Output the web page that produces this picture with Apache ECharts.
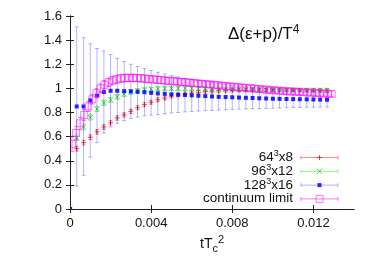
<!DOCTYPE html>
<html><head><meta charset="utf-8">
<script src="https://cdn.jsdelivr.net/npm/echarts@6/dist/echarts.min.js"></script>
<style>html,body{margin:0;padding:0;background:#fff}#c{width:382px;height:267px}</style>
</head><body><div id="c"></div>
<script>
// lattice flow-time values tT_c^2 (shared by the three lattices)
const tLat = [0, 0.00033, 0.00067, 0.00100, 0.00133, 0.00167, 0.00200, 0.00233, 0.00267, 0.00300,
  0.00333, 0.00367, 0.00400, 0.00433, 0.00467, 0.00500, 0.00533, 0.00567, 0.00600, 0.00633,
  0.00667, 0.00700, 0.00733, 0.00767, 0.00800, 0.00833, 0.00867, 0.00900, 0.00933, 0.00967,
  0.01000, 0.01033, 0.01067, 0.01100, 0.01133, 0.01167, 0.01200, 0.01233, 0.01267];
const red64 = [0, 0.50, 0.55, 0.595, 0.64, 0.68, 0.715, 0.755, 0.78, 0.81,
  0.84, 0.865, 0.885, 0.905, 0.92, 0.935, 0.945, 0.955, 0.962, 0.968,
  0.973, 0.977, 0.98, 0.982, 0.984, 0.985, 0.986, 0.986, 0.987, 0.987,
  0.987, 0.987, 0.986, 0.986, 0.986, 0.985, 0.985, 0.984, 0.984];
const red64Err = [0, 0.02, 0.02, 0.02, 0.02, 0.02, 0.018, 0.018, 0.018, 0.017,
  0.017, 0.016, 0.016, 0.016, 0.015, 0.015, 0.015, 0.015, 0.014, 0.014,
  0.014, 0.014, 0.014, 0.013, 0.013, 0.013, 0.013, 0.013, 0.013, 0.013,
  0.012, 0.012, 0.012, 0.012, 0.012, 0.012, 0.012, 0.012, 0.012];
const green96 = [0, 0.59, 0.68, 0.76, 0.83, 0.88, 0.905, 0.93, 0.953, 0.97,
  0.98, 0.988, 0.993, 0.997, 1.0, 1.0, 1.0, 1.0, 0.999, 0.998,
  0.997, 0.996, 0.995, 0.994, 0.993, 0.992, 0.991, 0.99, 0.989, 0.988,
  0.988, 0.987, 0.987, 0.986, 0.986, 0.985, 0.985, 0.985, 0.984];
const green96Err = [0, 0.025, 0.025, 0.024, 0.023, 0.022, 0.021, 0.02, 0.02, 0.019,
  0.019, 0.018, 0.018, 0.018, 0.017, 0.017, 0.017, 0.016, 0.016, 0.016,
  0.016, 0.015, 0.015, 0.015, 0.015, 0.015, 0.014, 0.014, 0.014, 0.014,
  0.014, 0.014, 0.013, 0.013, 0.013, 0.013, 0.013, 0.013, 0.013];
const blue128 = [0, 0.85, 0.85, 0.90, 0.94, 0.97, 0.98, 0.98, 0.977, 0.975,
  0.972, 0.968, 0.963, 0.958, 0.955, 0.951, 0.948, 0.945, 0.942, 0.939,
  0.936, 0.933, 0.930, 0.928, 0.926, 0.924, 0.922, 0.920, 0.918, 0.916,
  0.914, 0.913, 0.912, 0.911, 0.910, 0.909, 0.908, 0.907, 0.906];
const blue128Err = [0, 0.66, 0.57, 0.47, 0.39, 0.34, 0.30, 0.27, 0.245, 0.225,
  0.21, 0.195, 0.185, 0.175, 0.165, 0.155, 0.148, 0.14, 0.133, 0.127,
  0.12, 0.115, 0.11, 0.105, 0.10, 0.096, 0.092, 0.088, 0.085, 0.082,
  0.079, 0.076, 0.073, 0.07, 0.068, 0.066, 0.064, 0.062, 0.06];
// continuum limit
const tCont = [0.0001, 0.0003, 0.0005, 0.0007, 0.0009, 0.0011, 0.0013, 0.0015, 0.0017, 0.0019,
  0.0021, 0.0023, 0.0025, 0.0027, 0.0029, 0.0031, 0.0033, 0.0035, 0.0037, 0.0039,
  0.0041, 0.0043, 0.0045, 0.0047, 0.0049, 0.0051, 0.0053, 0.0055, 0.0057, 0.0059,
  0.0061, 0.0063, 0.0065, 0.0067, 0.0069, 0.0071, 0.0073, 0.0075, 0.0077, 0.0079,
  0.0081, 0.0083, 0.0085, 0.0087, 0.0089, 0.0091, 0.0093, 0.0095, 0.0097, 0.0099,
  0.0101, 0.0103, 0.0105, 0.0107, 0.0109, 0.0111, 0.0113, 0.0115, 0.0117, 0.0119,
  0.0121, 0.0123, 0.0125, 0.0127, 0.0129];
const cont = [0.54, 0.63, 0.71, 0.78, 0.85, 0.91, 0.96, 1.00, 1.03, 1.05,
  1.065, 1.075, 1.082, 1.086, 1.087, 1.087, 1.085, 1.083, 1.080, 1.077,
  1.074, 1.071, 1.068, 1.065, 1.062, 1.059, 1.056, 1.053, 1.050, 1.047,
  1.044, 1.041, 1.038, 1.035, 1.032, 1.029, 1.026, 1.022, 1.019, 1.016,
  1.013, 1.010, 1.007, 1.004, 1.001, 0.998, 0.995, 0.992, 0.989, 0.986,
  0.984, 0.981, 0.979, 0.976, 0.974, 0.972, 0.970, 0.968, 0.966, 0.964,
  0.962, 0.960, 0.958, 0.956, 0.954];
const contErr = [0.065, 0.055, 0.05, 0.045, 0.042, 0.04, 0.038, 0.036, 0.035, 0.034,
  0.033, 0.033, 0.032, 0.032, 0.031, 0.031, 0.03, 0.03, 0.03, 0.029,
  0.029, 0.029, 0.028, 0.028, 0.028, 0.028, 0.027, 0.027, 0.027, 0.027,
  0.026, 0.026, 0.026, 0.026, 0.026, 0.025, 0.025, 0.025, 0.025, 0.025,
  0.025, 0.024, 0.024, 0.024, 0.024, 0.024, 0.024, 0.023, 0.023, 0.023,
  0.023, 0.023, 0.023, 0.023, 0.022, 0.022, 0.022, 0.022, 0.022, 0.022,
  0.022, 0.022, 0.022, 0.022, 0.022];
const xTicks = [0, 0.004, 0.008, 0.012];
const legendNames = ['64{s|3}x8', '96{s|3}x12', '128{s|3}x16', 'continuum limit'];

const FONT = 'Liberation Sans, Arial, Helvetica, sans-serif';
const styles = [
  { bar: 'rgba(255,0,0,0.45)', mk: 'rgba(225,0,0,0.7)', shape: 'plus', size: 2.5 },
  { bar: 'rgba(0,230,0,0.45)', mk: 'rgba(0,210,0,0.75)', shape: 'cross', size: 2.5 },
  { bar: 'rgba(0,0,255,0.3)', mk: 'rgba(0,0,255,0.85)', shape: 'fsquare', size: 2 },
  { bar: 'rgba(255,0,255,0.55)', mk: 'rgba(255,0,255,0.55)', shape: 'osquare', size: 3.5 }
];

function markerShapes(st, cx, cy) {
  const s = st.size;
  if (st.shape === 'plus') return [
    { type: 'line', shape: { x1: cx - s, y1: cy, x2: cx + s, y2: cy }, style: { stroke: st.mk, lineWidth: 1 } },
    { type: 'line', shape: { x1: cx, y1: cy - s, x2: cx, y2: cy + s }, style: { stroke: st.mk, lineWidth: 1 } }];
  if (st.shape === 'cross') return [
    { type: 'line', shape: { x1: cx - s, y1: cy - s, x2: cx + s, y2: cy + s }, style: { stroke: st.mk, lineWidth: 1 } },
    { type: 'line', shape: { x1: cx - s, y1: cy + s, x2: cx + s, y2: cy - s }, style: { stroke: st.mk, lineWidth: 1 } }];
  if (st.shape === 'fsquare') return [
    { type: 'rect', shape: { x: cx - s, y: cy - s, width: 2 * s, height: 2 * s }, style: { fill: st.mk } }];
  return [{ type: 'rect', shape: { x: cx - s, y: cy - s, width: 2 * s, height: 2 * s }, style: { fill: 'none', stroke: st.mk, lineWidth: 1 } }];
}

function errSeries(idx, xs, ys, es) {
  const st = styles[idx];
  const data = xs.map((x, i) => [x, ys[i], es[i]]);
  return {
    type: 'custom', xAxisIndex: 0, yAxisIndex: 0, clip: true, silent: true,
    data: data,
    renderItem: function (params, api) {
      const x = api.value(0), y = api.value(1), e = api.value(2);
      const p = api.coord([x, y]);
      const top = api.coord([x, y + e]);
      const bot = api.coord([x, y - e]);
      const cw = 2;
      const ch = [];
      if (e > 0) {
        ch.push({ type: 'line', shape: { x1: p[0], y1: top[1], x2: p[0], y2: bot[1] }, style: { stroke: st.bar, lineWidth: 1 } });
        ch.push({ type: 'line', shape: { x1: p[0] - cw, y1: top[1], x2: p[0] + cw, y2: top[1] }, style: { stroke: st.bar, lineWidth: 1 } });
        ch.push({ type: 'line', shape: { x1: p[0] - cw, y1: bot[1], x2: p[0] + cw, y2: bot[1] }, style: { stroke: st.bar, lineWidth: 1 } });
      }
      return { type: 'group', children: ch.concat(markerShapes(st, p[0], p[1])) };
    }
  };
}

const chart = echarts.init(document.getElementById('c'), null, { renderer: 'canvas' });
const axisLineStyle = { color: '#222', width: 1 };
const lab = { fontFamily: FONT, fontSize: 13, color: '#111' };

// legend graphics
const legendTop = 157.5, legendStep = 13.8;
const legendGraphics = [];
legendNames.forEach((nm, i) => {
  const st = styles[i];
  const y = legendTop + i * legendStep;
  legendGraphics.push({ type: 'text', right: 382 - 293, top: y - 8,
    style: { text: nm, font: '13.5px ' + FONT, fill: '#111', textAlign: 'right',
      rich: { s: { fontSize: 9, verticalAlign: 'top', padding: [0, 0, 7, 0], fontFamily: FONT, fill: '#111' } } } });
  legendGraphics.push({ type: 'line', shape: { x1: 301, y1: y, x2: 338, y2: y }, style: { stroke: st.bar, lineWidth: 1 } });
  legendGraphics.push({ type: 'line', shape: { x1: 301, y1: y - 2, x2: 301, y2: y + 2 }, style: { stroke: st.bar, lineWidth: 1 } });
  legendGraphics.push({ type: 'line', shape: { x1: 338, y1: y - 2, x2: 338, y2: y + 2 }, style: { stroke: st.bar, lineWidth: 1 } });
  markerShapes(st, 319.5, y).forEach(g => legendGraphics.push(g));
});

chart.setOption({
  animation: false,
  backgroundColor: '#fff',
  grid: { left: 70, right: 28, top: 16, bottom: 58, containLabel: false },
  xAxis: [
    { type: 'value', min: 0, max: 0.014, interval: 0.004, position: 'bottom',
      axisLine: { show: true, lineStyle: axisLineStyle },
      axisTick: { inside: true, length: 4, lineStyle: axisLineStyle, customValues: xTicks },
      axisLabel: { ...lab, margin: 8, customValues: xTicks, formatter: v => String(v) },
      splitLine: { show: false } },
    { type: 'value', min: 0, max: 0.014, interval: 0.004, position: 'top',
      axisLine: { show: true, lineStyle: axisLineStyle },
      axisTick: { inside: true, length: 4, lineStyle: axisLineStyle, customValues: xTicks },
      axisLabel: { show: false }, splitLine: { show: false } }
  ],
  yAxis: [
    { type: 'value', min: 0, max: 1.6, interval: 0.2, position: 'left',
      axisLine: { show: true, lineStyle: axisLineStyle },
      axisTick: { inside: true, length: 4, lineStyle: axisLineStyle },
      axisLabel: { ...lab, margin: 8 }, splitLine: { show: false } },
    { type: 'value', min: 0, max: 1.6, interval: 0.2, position: 'right',
      axisLine: { show: true, lineStyle: axisLineStyle },
      axisTick: { inside: true, length: 4, lineStyle: axisLineStyle },
      axisLabel: { show: false }, splitLine: { show: false } }
  ],
  graphic: [
    { type: 'text', left: 228, top: 24,
      style: { text: 'Δ(ε+p)/T{s|4}', font: '17px ' + FONT, fill: '#111',
        rich: { s: { fontSize: 12, fontFamily: FONT, fill: '#111', verticalAlign: 'top', padding: [0, 0, 8, 0] } } } },
    { type: 'text', left: 200, top: 234,
      style: { text: 'tT{b|c}{s|2}', font: '14px ' + FONT, fill: '#111',
        rich: { b: { fontSize: 11, fontFamily: FONT, fill: '#111', padding: [9, 0, 0, 0] },
                s: { fontSize: 11, fontFamily: FONT, fill: '#111', padding: [0, 0, 9, 0] } } } }
  ].concat(legendGraphics),
  series: [
    errSeries(0, tLat, red64, red64Err),
    errSeries(1, tLat, green96, green96Err),
    errSeries(2, tLat, blue128, blue128Err),
    errSeries(3, tCont, cont, contErr)
  ]
});
</script></body></html>
